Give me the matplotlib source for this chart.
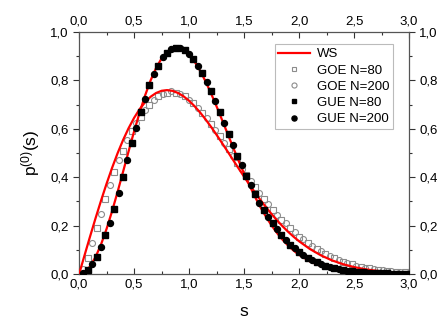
import matplotlib
matplotlib.use('Agg')
import matplotlib.pyplot as plt
from matplotlib.ticker import MultipleLocator, FuncFormatter

plt.rcParams['font.family'] = ['Liberation Sans', 'DejaVu Sans']
plt.rcParams['mathtext.default'] = 'regular'

# Wigner surmise curves (sampled)
s_ws = [0.0, 0.05, 0.1, 0.15, 0.2, 0.25, 0.3, 0.35, 0.4, 0.45, 0.5, 0.55, 0.6, 0.65, 0.7,
        0.75, 0.8, 0.85, 0.9, 0.95, 1.0, 1.05, 1.1, 1.15, 1.2, 1.25, 1.3, 1.35, 1.4, 1.45,
        1.5, 1.55, 1.6, 1.65, 1.7, 1.75, 1.8, 1.85, 1.9, 1.95, 2.0, 2.1, 2.2, 2.3, 2.4,
        2.5, 2.6, 2.7, 2.8, 2.9, 3.0]
ws_goe = [0.0, 0.0784, 0.1559, 0.2315, 0.3044, 0.3739, 0.4391, 0.4994, 0.5541, 0.6029,
          0.6454, 0.6813, 0.7104, 0.7327, 0.7483, 0.7574, 0.7602, 0.7570, 0.7483, 0.7345,
          0.7162, 0.6938, 0.6680, 0.6393, 0.6083, 0.5755, 0.5415, 0.5068, 0.4718, 0.4369,
          0.4025, 0.3690, 0.3366, 0.3055, 0.2759, 0.2481, 0.2220, 0.1977, 0.1752, 0.1546,
          0.1358, 0.1033, 0.0772, 0.0567, 0.0409, 0.0290, 0.0202, 0.0138, 0.0093, 0.0062,
          0.0040]
ws_gue = [0.0, 0.0081, 0.0320, 0.0709, 0.1233, 0.1871, 0.2602, 0.3398, 0.4232, 0.5073,
          0.5896, 0.6673, 0.7380, 0.8000, 0.8514, 0.8911, 0.9186, 0.9337, 0.9364, 0.9274,
          0.9076, 0.8782, 0.8405, 0.7961, 0.7463, 0.6929, 0.6371, 0.5804, 0.5240, 0.4687,
          0.4158, 0.3656, 0.3188, 0.2757, 0.2364, 0.2012, 0.1697, 0.1421, 0.1181, 0.0973,
          0.0796, 0.0521, 0.0331, 0.0204, 0.0122, 0.0071, 0.0040, 0.0022, 0.0012, 0.0006,
          0.0003]

# histogram points
s_a = [0.08, 0.16, 0.24, 0.32, 0.40, 0.48, 0.56, 0.64, 0.72, 0.80, 0.88, 0.96, 1.04, 1.12,
       1.20, 1.28, 1.36, 1.44, 1.52, 1.60, 1.68, 1.76, 1.84, 1.92, 2.00, 2.08, 2.16, 2.24,
       2.32, 2.40, 2.48, 2.56, 2.64, 2.72, 2.80, 2.88, 2.96]
s_b = [0.04, 0.12, 0.20, 0.28, 0.36, 0.44, 0.52, 0.60, 0.68, 0.76, 0.84, 0.92, 1.00, 1.08,
       1.16, 1.24, 1.32, 1.40, 1.48, 1.56, 1.64, 1.72, 1.80, 1.88, 1.96, 2.04, 2.12, 2.20,
       2.28, 2.36, 2.44, 2.52, 2.60, 2.68, 2.76, 2.84, 2.92, 3.00]

goe80 = [0.065, 0.19, 0.31, 0.42, 0.51, 0.59, 0.65, 0.70, 0.735, 0.75, 0.75, 0.735, 0.705,
         0.665, 0.62, 0.57, 0.515, 0.46, 0.41, 0.36, 0.31, 0.265, 0.225, 0.19, 0.155, 0.128,
         0.105, 0.085, 0.066, 0.052, 0.040, 0.031, 0.024, 0.018, 0.013, 0.010, 0.007]
goe200 = [0.02, 0.13, 0.25, 0.37, 0.47, 0.555, 0.625, 0.68, 0.72, 0.745, 0.755, 0.745, 0.72,
          0.685, 0.645, 0.595, 0.54, 0.49, 0.435, 0.385, 0.335, 0.29, 0.245, 0.21, 0.175,
          0.143, 0.117, 0.095, 0.076, 0.059, 0.046, 0.035, 0.027, 0.020, 0.015, 0.011, 0.008,
          0.006]
gue80 = [0.015, 0.07, 0.16, 0.27, 0.40, 0.54, 0.67, 0.78, 0.86, 0.915, 0.935, 0.925, 0.89,
         0.83, 0.755, 0.67, 0.58, 0.49, 0.405, 0.33, 0.265, 0.21, 0.16, 0.122, 0.092, 0.068,
         0.049, 0.035, 0.025, 0.017, 0.012, 0.008, 0.006, 0.004, 0.003, 0.002, 0.001]
gue200 = [0.004, 0.04, 0.11, 0.21, 0.335, 0.47, 0.605, 0.725, 0.825, 0.895, 0.93, 0.935,
          0.91, 0.86, 0.795, 0.715, 0.625, 0.535, 0.45, 0.37, 0.295, 0.235, 0.185, 0.14,
          0.106, 0.079, 0.058, 0.042, 0.030, 0.021, 0.014, 0.010, 0.007, 0.005, 0.003, 0.002,
          0.001, 0.001]

fig = plt.figure(figsize=(4.37, 3.24), dpi=100)
ax = fig.add_axes([0.181, 0.154, 0.755, 0.747])

ax.plot(s_ws, ws_goe, color='#ff0000', lw=1.6, label='WS', zorder=3)
ax.plot(s_ws, ws_gue, color='#ff0000', lw=1.6, zorder=3)

ax.plot(s_a, goe80, ls='none', marker='s', ms=4, mfc='none', mec='#8c8c8c', mew=0.8,
        label='GOE N=80', zorder=2)
ax.plot(s_b, goe200, ls='none', marker='o', ms=4.3, mfc='none', mec='#8c8c8c', mew=0.8,
        label='GOE N=200', zorder=2)
ax.plot(s_a, gue80, ls='none', marker='s', ms=3.8, color='black', label='GUE N=80', zorder=4)
ax.plot(s_b, gue200, ls='none', marker='o', ms=4.3, color='black', label='GUE N=200', zorder=4)

ax.set_xlim(0, 3.0)
ax.set_ylim(0, 1.0)
ax.xaxis.set_major_locator(MultipleLocator(0.5))
ax.xaxis.set_minor_locator(MultipleLocator(0.25))
ax.yaxis.set_major_locator(MultipleLocator(0.2))
ax.yaxis.set_minor_locator(MultipleLocator(0.1))
fmt = FuncFormatter(lambda v, p: f'{v:.1f}'.replace('.', ','))
ax.xaxis.set_major_formatter(fmt)
ax.yaxis.set_major_formatter(fmt)

ax.tick_params(which='both', top=True, right=True, labeltop=True, labelright=True,
               direction='in', labelsize=9.5, colors='#333333', labelcolor='black')
ax.tick_params(axis='y', which='both', left=True, direction='out')
ax.tick_params(which='major', length=4, width=0.8)
ax.tick_params(which='minor', length=2.5, width=0.8)
ax.tick_params(axis='x', pad=3)
for sp in ax.spines.values():
    sp.set_color('#555555')
    sp.set_linewidth(0.9)

ax.set_xlabel('s', fontsize=12.5, labelpad=10)
ax.set_ylabel('p$^{(0)}$(s)', fontsize=12.5, labelpad=6)

leg = ax.legend(loc='upper right', bbox_to_anchor=(0.952, 0.95), fontsize=9.5,
                frameon=True, fancybox=False, edgecolor='#aaaaaa', handlelength=2.4,
                handletextpad=0.5, borderpad=0.3, labelspacing=0.3, borderaxespad=0,
                markerscale=0.85)
leg.get_frame().set_linewidth(0.8)

fig.savefig('out.png', dpi=100)
